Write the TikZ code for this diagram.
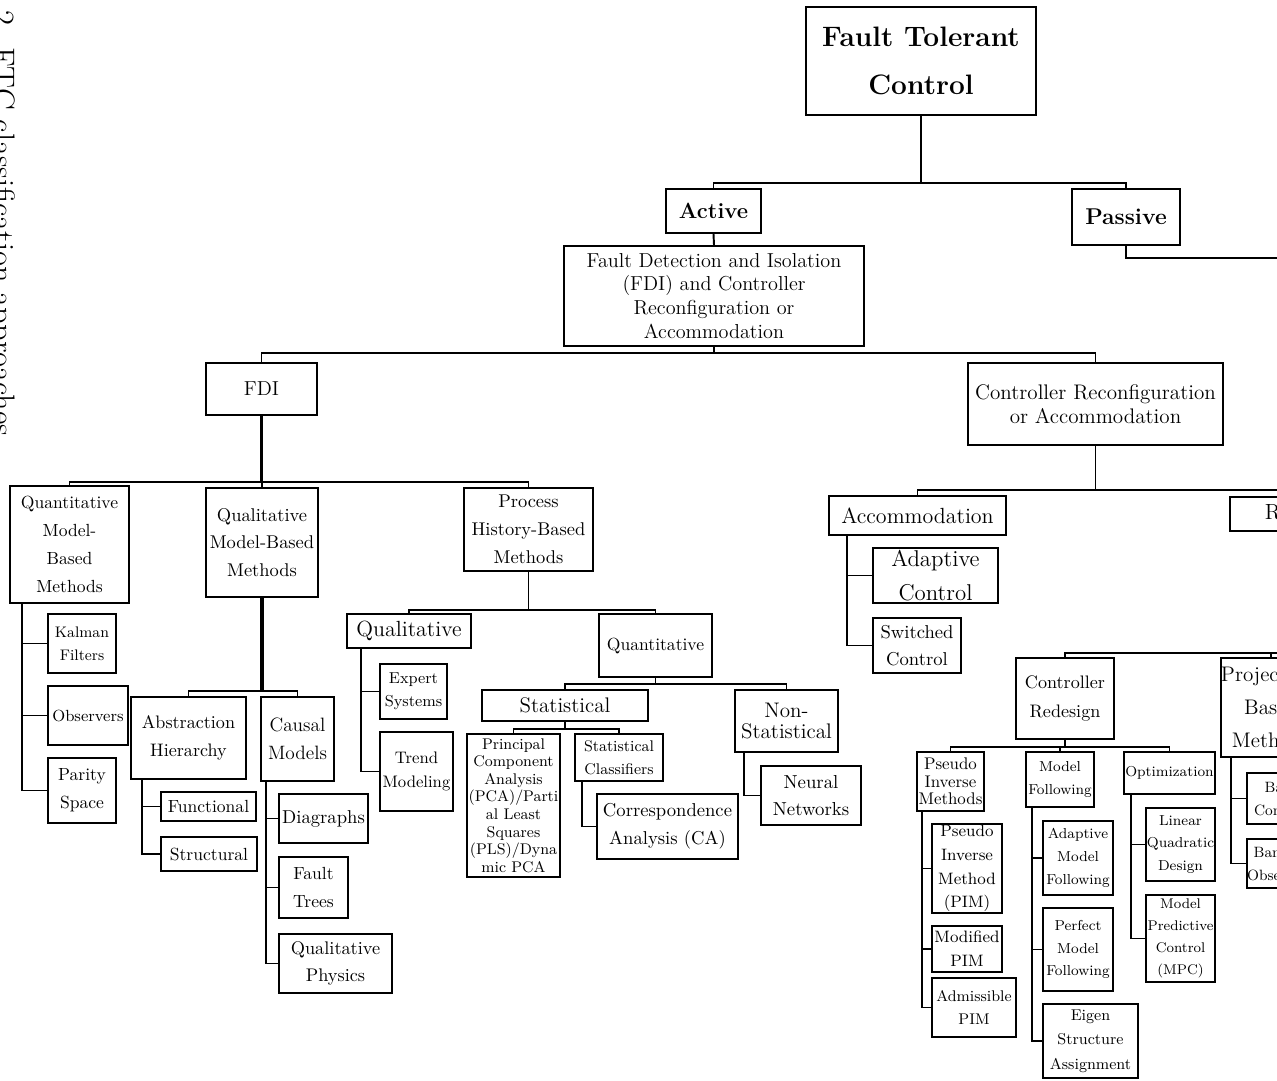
\documentclass[tikz,border=0pt]{standalone}
\usetikzlibrary{calc}
\tikzset{
    box/.style={draw, line width=1.1pt, inner sep=0pt, align=center},
    wh/.style 2 args={minimum width=#1*0.02cm, minimum height=#2*0.02cm},
    fs/.style 2 args={font=\fontsize{#1}{#2}\selectfont},
    fsb/.style 2 args={font=\fontsize{#1}{#2}\selectfont\bfseries},
    link/.style={line width=1.1pt},
    heavylink/.style={line width=2.2pt}
}
\begin{document}
\begin{tikzpicture}[x=0.02cm, y=-0.02cm]
        \useasboundingbox (0,0) rectangle (1277,1080);
        \clip (0,0) rectangle (1277,1080);
        \node[rotate=-90, anchor=base west, fs={18.5}{20}] (caption) at (-8,-89) {Figure 2. FTC classification approaches};

        \node[box, wh={230}{108}, fsb={16}{27}] (ftc) at (921,61) {Fault Tolerant\\Control};
        \node[box, wh={95}{44}, fsb={12.5}{15}] (active) at (713.5,211) {Active};
        \node[box, wh={108}{56}, fsb={13}{15}] (passive) at (1126,217) {Passive};
        \node[box, wh={300}{100}, fs={11.5}{13.6}] (fdibig) at (714,296) {Fault Detection and Isolation\\(FDI) and Controller\\Reconfiguration or\\Accommodation};
        \node[box, wh={111}{52}, fs={11.5}{14}] (fdi) at (261.5,389) {FDI};
        \node[box, wh={255}{82}, fs={12}{14}] (ctrlrec) at (1095.5,404) {Controller Reconfiguration\\or Accommodation};

        \node[box, wh={119}{117}, fs={10}{16}] (quantmb) at (69.5,544.5) {Quantitative\\Model-\\Based\\Methods};
        \node[box, wh={112}{109}, fs={10.5}{15.5}] (qualmb) at (262,542.5) {Qualitative\\Model-Based\\Methods};
        \node[box, wh={129}{83}, fs={10.5}{16}] (phb) at (528.5,529.5) {Process\\History-Based\\Methods};

        \node[box, wh={68}{59}, fs={8.7}{13}] (kalman) at (82,643.5) {Kalman\\Filters};
        \node[box, wh={80}{59}, fs={9.2}{13}] (observers) at (88,715.5) {Observers};
        \node[box, wh={68}{65}, fs={10}{16}] (parity) at (82,790.5) {Parity\\Space};

        \node[box, wh={115}{82}, fs={10.3}{16}] (absh) at (188.5,738) {Abstraction\\Hierarchy};
        \node[box, wh={73}{84}, fs={11}{16}] (causal) at (297.5,739) {Causal\\Models};
        \node[box, wh={95}{29}, fs={10}{12}] (functional) at (208.5,806.5) {Functional};
        \node[box, wh={96}{34}, fs={10}{12}] (structural) at (209,854) {Structural};
        \node[box, wh={89}{49}, fs={10.6}{12}] (diagraphs) at (323.5,818.5) {Diagraphs};
        \node[box, wh={69}{61}, fs={10}{16}] (faulttrees) at (313.5,887.5) {Fault\\Trees};
        \node[box, wh={113}{59}, fs={10.4}{15}] (qphysics) at (335.5,963.5) {Qualitative\\Physics};

        \node[box, wh={124}{34}, fs={12.5}{14}] (qualitative) at (409,631) {Qualitative};
        \node[box, wh={113}{63}, fs={10}{12}] (quantitative) at (655.5,645.5) {Quantitative};
        \node[box, wh={67}{55}, fs={9}{13}] (expert) at (413.5,691.5) {Expert\\Systems};
        \node[box, wh={73}{79}, fs={9.5}{13.5}] (trend) at (416.5,771.5) {Trend\\Modeling};
        \node[box, wh={166}{31}, fs={12}{14}] (statistical) at (565,705.5) {Statistical};
        \node[box, wh={103}{62}, fs={12}{12.5}] (nonstat) at (786.5,721) {Non-\\Statistical};
        \node[box, wh={93}{143}, fs={8.8}{10}] (pca) at (513.5,805.5) {Principal\\Component\\Analysis\\(PCA)/Parti\\al Least\\Squares\\(PLS)/Dyna\\mic PCA};
        \node[box, wh={88}{47}, fs={8.8}{13}] (statclass) at (619,757.5) {Statistical\\Classifiers};
        \node[box, wh={141}{65}, fs={10.6}{16}] (corresp) at (667.5,826.5) {Correspondence\\Analysis (CA)};
        \node[box, wh={100}{59}, fs={10.7}{15.5}] (neural) at (811,795.5) {Neural\\Networks};

        \node[box, wh={177}{39}, fs={12.5}{14}] (accom) at (917.5,515.5) {Accommodation};
        \node[box, wh={125}{55}, fs={13}{19}] (adaptctl) at (935.5,575.5) {Adaptive\\Control};
        \node[box, wh={88}{55}, fs={10.6}{15}] (switched) at (917,645.5) {Switched\\Control};
        \node[box, wh={218}{34}, fs={12.5}{14}] (reconf) at (1339,514) {Reconfiguration};

        \node[box, wh={98}{81}, fs={10.3}{16}] (redesign) at (1065,698.5) {Controller\\Redesign};
        \node[box, wh={100}{99}, fs={12}{19}] (projection) at (1271,707.5) {Projection-\\Based\\Methods};
        \node[box, wh={67}{59}, fs={9.6}{10}] (pimeth) at (950.5,781.5) {Pseudo\\Inverse\\Methods};
        \node[box, wh={68}{55}, fs={8.2}{13}] (modelfol) at (1060,779.5) {Model\\Following};
        \node[box, wh={91}{42}, fs={8.2}{10}] (optim) at (1169.5,773) {Optimization};

        \node[box, wh={70}{89}, fs={9.4}{13.5}] (pim) at (967,868.5) {Pseudo\\Inverse\\Method\\(PIM)};
        \node[box, wh={70}{46}, fs={9.4}{13.5}] (modpim) at (967,949) {Modified\\PIM};
        \node[box, wh={84}{59}, fs={8.8}{13.5}] (admpim) at (974,1007.5) {Admissible\\PIM};
        \node[box, wh={70}{74}, fs={8.2}{13}] (adamf) at (1078,858) {Adaptive\\Model\\Following};
        \node[box, wh={70}{83}, fs={8.2}{13}] (perfmf) at (1078,949.5) {Perfect\\Model\\Following};
        \node[box, wh={95}{74}, fs={8.9}{14}] (eigen) at (1090.5,1041) {Eigen\\Structure\\Assignment};
        \node[box, wh={69}{73}, fs={8.2}{13}] (lqd) at (1180.5,844.5) {Linear\\Quadratic\\Design};
        \node[box, wh={69}{87}, fs={8}{12.5}] (mpc) at (1180.5,938.5) {Model\\Predictive\\Control\\(MPC)};
        \node[box, wh={88}{51}, fs={8.5}{13}] (bankctl) at (1291,798.5) {Bank of\\Controllers};
        \node[box, wh={66}{49}, fs={8.5}{13}] (bankobs) at (1280,863.5) {Bank of\\Observers};

        \coordinate (passiveend) at (1290,258);
        \foreach \c in {active,passive} \draw[link] (ftc.south) -- ++(0,67) -| (\c.north);
        \draw[link] (passive.south) |- (passiveend);
        \draw[link] (active.south) -- (fdibig.north);
        \foreach \c in {fdi,ctrlrec} \draw[link] (fdibig.south) -- ++(0,6) -| (\c.north);

        \draw[heavylink] (fdi.south) -- ++(0,66);
        \foreach \c in {quantmb,qualmb,phb} \draw[link] (fdi.south) ++(0,66) -| (\c.north);
        \foreach \c in {kalman,observers,parity} \draw[link] ($(quantmb.south west)+(13,0)$) |- (\c.west);
        \draw[heavylink] (qualmb.south) -- ++(0,93);
        \foreach \c in {absh,causal} \draw[link] (qualmb.south) ++(0,93) -| (\c.north);
        \foreach \c in {functional,structural} \draw[link] ($(absh.south west)+(12,0)$) |- (\c.west);
        \foreach \c in {diagraphs,faulttrees,qphysics} \draw[link] ($(causal.south west)+(6,0)$) |- (\c.west);
        \foreach \c in {qualitative,quantitative} \draw[link] (phb.south) -- ++(0,38) -| (\c.north);
        \foreach \c in {expert,trend} \draw[link] ($(qualitative.south west)+(15,0)$) |- (\c.west);
        \foreach \c in {statistical,nonstat} \draw[link] (quantitative.south) -- ++(0,6) -| (\c.north);
        \foreach \c in {pca,statclass} \draw[link] (statistical.south) -- ++(0,7) -| (\c.north);
        \draw[link] ($(statclass.south west)+(8,0)$) |- (corresp.west);
        \draw[link] ($(nonstat.south west)+(10,0)$) |- (neural.west);

        \foreach \c in {accom,reconf} \draw[link] (ctrlrec.south) -- ++(0,44) -| (\c.north);
        \foreach \c in {adaptctl,switched} \draw[link] ($(accom.south west)+(19,0)$) |- (\c.west);
        \foreach \c in {redesign,projection} \draw[link] (reconf.south) -- ++(0,121) -| (\c.north);
        \foreach \c in {pimeth,modelfol,optim} \draw[link] (redesign.south) -- ++(0,7) -| (\c.north);
        \foreach \c in {pim,modpim,admpim} \draw[link] ($(pimeth.south west)+(6,0)$) |- (\c.west);
        \foreach \c in {adamf,perfmf,eigen} \draw[link] ($(modelfol.south west)+(7,0)$) |- (\c.west);
        \foreach \c in {lqd,mpc} \draw[link] ($(optim.south west)+(8,0)$) |- (\c.west);
        \foreach \c in {bankctl,bankobs} \draw[link] ($(projection.south west)+(11,0)$) |- (\c.west);
    \end{tikzpicture}
\end{document}
